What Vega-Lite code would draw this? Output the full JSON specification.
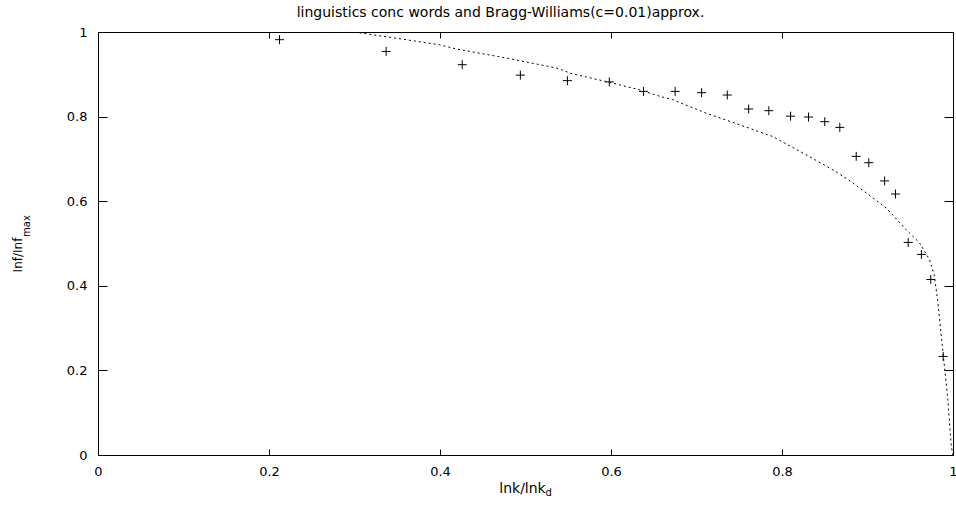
{
  "$schema": "https://vega.github.io/schema/vega-lite/v6.json",
  "width": 855,
  "height": 423,
  "autosize": {"type": "none"},
  "padding": {"left": 98, "top": 32, "right": 3, "bottom": 51},
  "background": "white",
  "config": {
    "view": {"stroke": "black", "strokeWidth": 1},
    "font": "DejaVu Sans",
    "axis": {
      "grid": false,
      "domainColor": "black",
      "domainWidth": 1,
      "tickColor": "black",
      "tickWidth": 1,
      "labelColor": "black",
      "labelFont": "DejaVu Sans",
      "labelFontSize": 13,
      "labelFlush": false,
      "labelOverlap": false,
      "titleColor": "black",
      "titleFont": "DejaVu Sans",
      "titleFontWeight": "normal"
    }
  },
  "title": {
    "text": "linguistics conc words and Bragg-Williams(c=0.01)approx.",
    "font": "DejaVu Sans",
    "fontSize": 14,
    "fontWeight": "normal",
    "color": "black",
    "anchor": "middle",
    "frame": "group",
    "baseline": "bottom",
    "offset": -8,
    "dx": -25
  },
  "datasets": {
    "pts": [
      {"x": 0.2123, "y": 0.9818},
      {"x": 0.337, "y": 0.954},
      {"x": 0.426, "y": 0.9227},
      {"x": 0.494, "y": 0.898},
      {"x": 0.549, "y": 0.885},
      {"x": 0.598, "y": 0.882},
      {"x": 0.638, "y": 0.8596},
      {"x": 0.675, "y": 0.8596},
      {"x": 0.706, "y": 0.8565},
      {"x": 0.736, "y": 0.851},
      {"x": 0.761, "y": 0.818},
      {"x": 0.7846, "y": 0.814},
      {"x": 0.81, "y": 0.801},
      {"x": 0.831, "y": 0.799},
      {"x": 0.85, "y": 0.788},
      {"x": 0.8676, "y": 0.7745},
      {"x": 0.8868, "y": 0.706},
      {"x": 0.9015, "y": 0.691},
      {"x": 0.92, "y": 0.648},
      {"x": 0.9327, "y": 0.617},
      {"x": 0.9476, "y": 0.5026},
      {"x": 0.963, "y": 0.4742},
      {"x": 0.974, "y": 0.415},
      {"x": 0.9885, "y": 0.233}
    ],
    "curve": [
      {"x": 0.3, "y": 1.0},
      {"x": 0.399, "y": 0.97},
      {"x": 0.419, "y": 0.96},
      {"x": 0.4775, "y": 0.9385},
      {"x": 0.536, "y": 0.915},
      {"x": 0.555, "y": 0.901},
      {"x": 0.594, "y": 0.883},
      {"x": 0.633, "y": 0.8636},
      {"x": 0.657, "y": 0.848},
      {"x": 0.672, "y": 0.84},
      {"x": 0.711, "y": 0.8085},
      {"x": 0.75, "y": 0.781},
      {"x": 0.789, "y": 0.753},
      {"x": 0.828, "y": 0.71},
      {"x": 0.863, "y": 0.67},
      {"x": 0.883, "y": 0.643},
      {"x": 0.922, "y": 0.584},
      {"x": 0.945, "y": 0.533},
      {"x": 0.961, "y": 0.501},
      {"x": 0.9725, "y": 0.462},
      {"x": 0.978, "y": 0.426},
      {"x": 0.982, "y": 0.367},
      {"x": 0.986, "y": 0.288},
      {"x": 0.99, "y": 0.209},
      {"x": 0.994, "y": 0.131},
      {"x": 0.998, "y": 0.02},
      {"x": 1.0, "y": 0.0}
    ]
  },
  "layer": [
    {
      "data": {"name": "curve"},
      "mark": {"type": "line", "color": "black", "strokeWidth": 1, "strokeDash": [2, 3], "clip": true},
      "encoding": {
        "x": {
          "field": "x", "type": "quantitative",
          "scale": {"domain": [0, 1], "nice": false, "zero": false},
          "axis": {
            "orient": "bottom",
            "values": [0, 0.2, 0.4, 0.6, 0.8, 1],
            "format": "~g",
            "tickSize": -6,
            "labelPadding": 16,
            "title": "lnk/lnk",
            "titleFontSize": 14,
            "titleX": 424,
            "titleY": 33.5,
            "titleAlign": "center",
            "titleBaseline": "middle"
          }
        },
        "y": {
          "field": "y", "type": "quantitative",
          "scale": {"domain": [0, 1], "nice": false, "zero": false},
          "axis": {
            "orient": "left",
            "values": [0, 0.2, 0.4, 0.6, 0.8, 1],
            "format": "~g",
            "tickSize": -9,
            "labelPadding": 20,
            "title": "Inf/Inf",
            "titleFontSize": 12,
            "titleAngle": 270,
            "titleX": -81,
            "titleY": 222.5,
            "titleAlign": "center",
            "titleBaseline": "middle"
          }
        }
      }
    },
    {
      "data": {"name": "pts"},
      "mark": {"type": "point", "shape": "M-1,0H1M0,-1V1", "size": 81, "filled": false, "stroke": "black", "strokeWidth": 1, "opacity": 1},
      "encoding": {
        "x": {
          "field": "x", "type": "quantitative",
          "scale": {"domain": [0, 1], "nice": false, "zero": false},
          "axis": {"orient": "top", "values": [0, 0.2, 0.4, 0.6, 0.8, 1], "tickSize": -6, "labels": false, "title": null}
        },
        "y": {
          "field": "y", "type": "quantitative",
          "scale": {"domain": [0, 1], "nice": false, "zero": false},
          "axis": {"orient": "right", "values": [0, 0.2, 0.4, 0.6, 0.8, 1], "tickSize": -9, "labels": false, "title": null}
        }
      }
    },
    {
      "data": {"values": [{}]},
      "mark": {"type": "text", "text": "d", "font": "DejaVu Sans", "fontSize": 10, "color": "black", "align": "center", "baseline": "middle", "clip": false},
      "encoding": {
        "x": {"datum": 0.527, "type": "quantitative", "axis": null},
        "y": {"datum": -0.0898, "type": "quantitative", "axis": null}
      }
    },
    {
      "data": {"values": [{}]},
      "mark": {"type": "text", "text": "max", "font": "DejaVu Sans", "fontSize": 10, "color": "black", "align": "center", "baseline": "middle", "angle": 270, "clip": false},
      "encoding": {
        "x": {"datum": -0.083, "type": "quantitative", "axis": null},
        "y": {"datum": 0.5414, "type": "quantitative", "axis": null}
      }
    }
  ],
  "resolve": {"axis": {"x": "independent", "y": "independent"}}
}
